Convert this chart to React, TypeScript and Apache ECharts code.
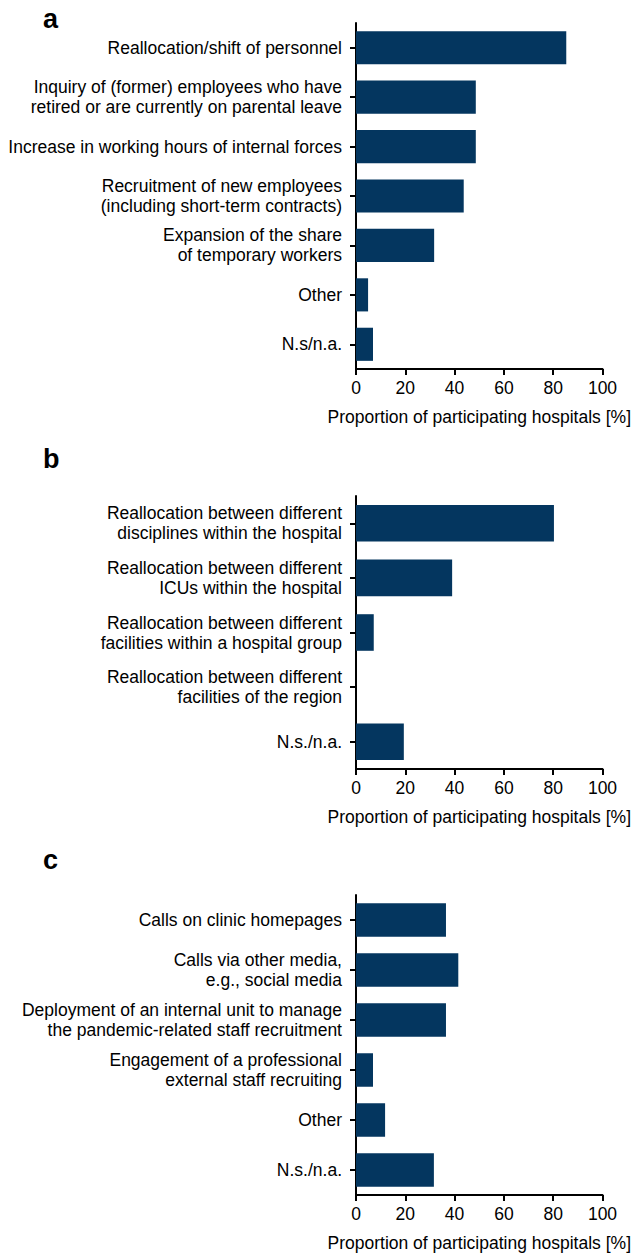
import React, { useEffect, useRef } from "react";
import * as echarts from "echarts";

const catsA = [
  "Reallocation/shift of personnel",
  "Inquiry of (former) employees who have\nretired or are currently on parental leave",
  "Increase in working hours of internal forces",
  "Recruitment of new employees\n(including short-term contracts)",
  "Expansion of the share\nof temporary workers",
  "Other",
  "N.s/n.a.",
];
const valsA = [85.3, 48.6, 48.6, 43.7, 31.7, 4.9, 6.9];

const catsB = [
  "Reallocation between different\ndisciplines within the hospital",
  "Reallocation between different\nICUs within the hospital",
  "Reallocation between different\nfacilities within a hospital group",
  "Reallocation between different\nfacilities of the region",
  "N.s./n.a.",
];
const valsB = [80.3, 39.0, 7.2, 0, 19.4];

const catsC = [
  "Calls on clinic homepages",
  "Calls via other media,\ne.g., social media",
  "Deployment of an internal unit to manage\nthe pandemic-related staff recruitment",
  "Engagement of a professional\nexternal staff recruiting",
  "Other",
  "N.s./n.a.",
];
const valsC = [36.5, 41.5, 36.5, 6.9, 11.8, 31.6];

const panelLetters = ["a", "b", "c"];
const xTitle = "Proportion of participating hospitals [%]";

const FONT = "'Liberation Sans', Arial, sans-serif";
const BAR = "#04365f";
const FS = 17.5;

export default function App() {
  const ref = useRef<HTMLDivElement>(null);
  useEffect(() => {
    if (!ref.current) return;
    const chart = echarts.init(ref.current, undefined, { renderer: "svg" });
    const grids = [
      { left: 356, right: 29.5, top: 23, height: 346 },
      { left: 356, right: 29.5, top: 496, height: 273 },
      { left: 356, right: 29.5, top: 895, height: 300 },
    ];
    const cats = [catsA, catsB, catsC];
    const vals = [valsA, valsB, valsC];
    const letterY = [21, 461, 862];
    const axisLine = { show: true, lineStyle: { color: "#000", width: 2 } };
    chart.setOption({
      animation: false,
      textStyle: { fontFamily: FONT },
      grid: grids,
      xAxis: grids.map((_, i) => ({
        type: "value",
        gridIndex: i,
        min: 0,
        max: 100,
        interval: 20,
        axisLine,
        axisTick: { show: true, length: 6, lineStyle: { color: "#000", width: 2 } },
        splitLine: { show: false },
        axisLabel: { color: "#000", fontSize: FS, fontFamily: FONT, margin: 10 },
        name: xTitle,
        nameLocation: "middle",
        nameGap: 39,
        nameTextStyle: { color: "#000", fontSize: FS, fontFamily: FONT },
      })),
      yAxis: grids.map((_, i) => ({
        type: "category",
        gridIndex: i,
        inverse: true,
        data: cats[i],
        axisLine,
        axisTick: { show: true, alignWithLabel: true, length: 6, lineStyle: { color: "#000", width: 2 } },
        axisLabel: {
          color: "#000",
          fontSize: FS,
          fontFamily: FONT,
          margin: 14,
          lineHeight: 20,
          align: "right",
        },
      })),
      series: grids.map((_, i) => ({
        type: "bar",
        xAxisIndex: i,
        yAxisIndex: i,
        data: vals[i],
        barCategoryGap: "33%",
        itemStyle: { color: BAR },
      })),
      graphic: panelLetters.map((l, i) => ({
        type: "text",
        left: 43,
        top: letterY[i] - 16,
        style: {
          text: l,
          fontSize: 27,
          fontWeight: "bold",
          fontFamily: FONT,
          fill: "#000",
        },
      })),
    });
    return () => chart.dispose();
  }, []);
  return (
    <div
      ref={ref}
      style={{ position: "absolute", left: 0, top: 0, width: 633, height: 1253, background: "#fff" }}
    />
  );
}
